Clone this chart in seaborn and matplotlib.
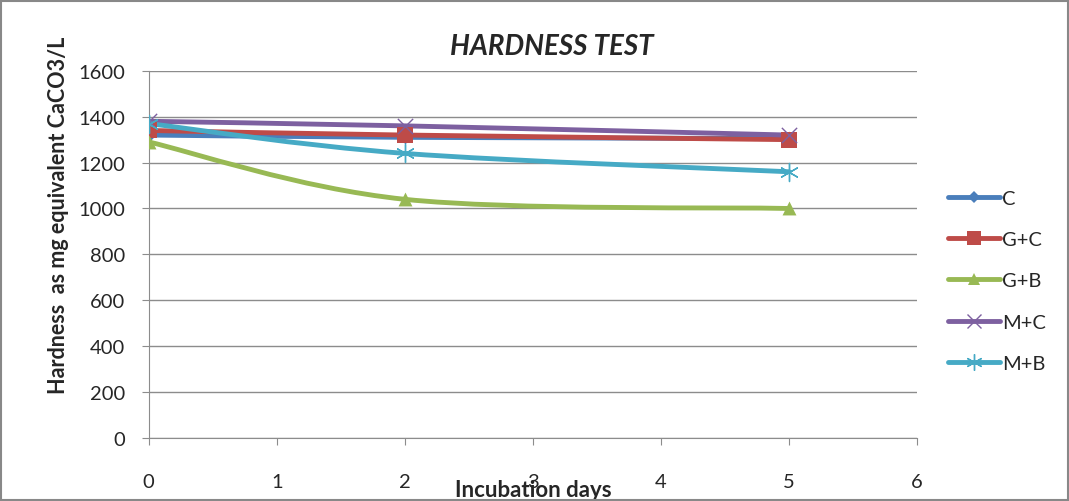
import numpy as np
import pandas as pd
import seaborn as sns
import matplotlib.pyplot as plt
from matplotlib.path import Path
from matplotlib.patches import PathPatch, Rectangle
from matplotlib.lines import Line2D

days = [0, 2, 5]
series_names = ["C", "G+C", "G+B", "M+C", "M+B"]
c_vals = [1320, 1310, 1305]
gc_vals = [1340, 1320, 1300]
gb_vals = [1290, 1040, 1000]
mc_vals = [1380, 1360, 1320]
mb_vals = [1370, 1240, 1160]

colors = ["#4A7EBB", "#BE4B48", "#98B954", "#7D60A0", "#46AAC5"]
markers = ["D", "s", "^", "x", (6, 2, 0)]
sizes = [7, 11, 10, 11, 13]

df = pd.DataFrame({"day": days * 5,
                   "hardness": c_vals + gc_vals + gb_vals + mc_vals + mb_vals,
                   "series": [s for s in series_names for _ in days]})

sns.set_style("white")
plt.rcParams['font.family'] = ['Lato', 'DejaVu Sans']

fig = plt.figure(figsize=(10.69, 5.02), dpi=100)
ax = fig.add_axes([0.139, 0.1255, 0.719, 0.7315])
fig.patches.append(Rectangle((0.001, 0.001), 0.998, 0.996, transform=fig.transFigure,
                             fill=False, edgecolor="#888888", lw=1.5))


def smooth_path(xs, ys):
    # excel-like smoothed line: bezier through the points
    pts = np.column_stack([xs, ys]).astype(float)
    n = len(pts)
    verts = [pts[0]]
    codes = [Path.MOVETO]
    for i in range(n - 1):
        p0 = pts[i - 1] if i > 0 else pts[i]
        p1, p2 = pts[i], pts[i + 1]
        p3 = pts[i + 2] if i + 2 < n else pts[i + 1]
        verts += [p1 + (p2 - p0) / 6, p2 - (p3 - p1) / 6, p2]
        codes += [Path.CURVE4] * 3
    return Path(verts, codes)


thin = lambda m: m == "x" or isinstance(m, tuple)

for name, col in zip(series_names, colors):
    sub = df[df.series == name]
    ax.add_patch(PathPatch(smooth_path(sub.day, sub.hardness), fill=False,
                           edgecolor=col, lw=3.5, zorder=3, capstyle="round"))

for name, col, m, s in zip(series_names, colors, markers, sizes):
    sub = df[df.series == name]
    sns.scatterplot(data=sub, x="day", y="hardness", ax=ax, color=col, marker=m,
                    s=s ** 2, linewidth=1 if thin(m) else 0, edgecolor=col,
                    zorder=4, legend=False)

ax.set_xlim(0, 6)
ax.set_ylim(0, 1600)
ax.set_xticks(range(0, 7))
ax.set_yticks(range(0, 1601, 200))
ax.yaxis.grid(True, color="#8c8c8c", lw=1)
ax.xaxis.grid(False)
for sp in ["top", "right"]:
    ax.spines[sp].set_visible(False)
for sp in ["left", "bottom"]:
    ax.spines[sp].set_color("#8c8c8c")
ax.tick_params(axis="both", length=5, color="#8c8c8c", labelsize=14.5, direction="out",
               bottom=True, left=True)
ax.tick_params(axis="x", pad=20)
ax.tick_params(axis="y", pad=12)

ax.set_title("HARDNESS TEST", fontsize=20, fontweight="bold", fontstyle="italic", pad=12, x=0.525)
ax.set_xlabel("Incubation days", fontsize=16, fontweight="bold")
ax.xaxis.set_label_coords(0.5, -0.112)
ax.set_ylabel("Hardness  as mg equivalent CaCO3/L", fontsize=15.5, fontweight="bold")
ax.yaxis.set_label_coords(-0.103, 0.61)

handles = [Line2D([0], [0], color=c, lw=3.5, marker=m, markersize=s * 0.9,
                  markeredgecolor=c, markeredgewidth=1 if thin(m) else 0)
           for c, m, s in zip(colors, markers, sizes)]
ax.legend(handles, series_names, loc="center left", bbox_to_anchor=(1.016, 0.428),
          frameon=False, fontsize=14.5, handlelength=2.6, handletextpad=0.1,
          labelspacing=1.2)

fig.savefig("out.png", dpi=100)
